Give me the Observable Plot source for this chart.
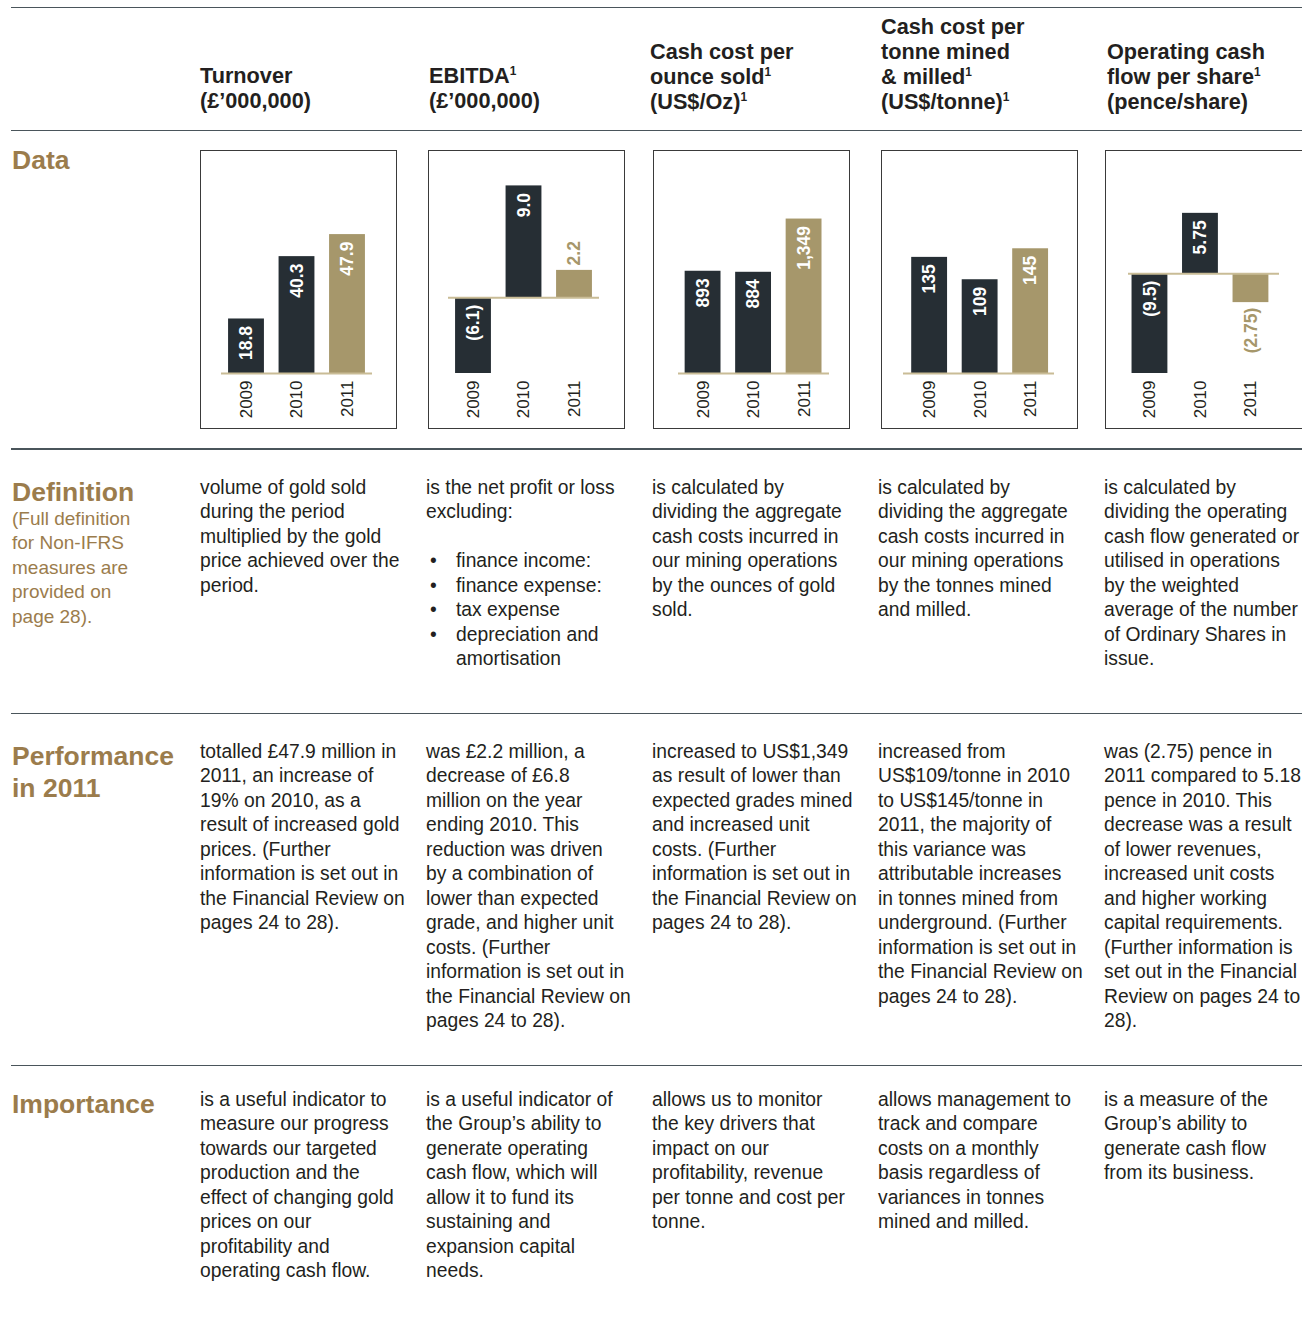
<!DOCTYPE html>
<html>
<head>
<meta charset="utf-8">
<script src="https://cdn.jsdelivr.net/npm/d3@7"></script>
<script src="https://cdn.jsdelivr.net/npm/@observablehq/plot@0.6"></script>
<style>
  html, body { margin: 0; padding: 0; background: #fff; }
  #page { position: relative; width: 1302px; height: 1324px; overflow: hidden; font-family: "Liberation Sans", Arial, Helvetica, sans-serif; color: #231f20; }
  .rule { position: absolute; left: 11px; width: 1300px; height: 1.5px; background: #4a555b; }
  .hdr { position: absolute; font-weight: bold; font-size: 21.7px; line-height: 25px; white-space: nowrap; }
  .hdr sup, .body sup { font-size: 0.55em; vertical-align: 0.65em; line-height: 0; }
  .sec { position: absolute; left: 12px; font-weight: bold; font-size: 26.5px; line-height: 32px; color: #9b7c4c; white-space: nowrap; }
  .sub { position: absolute; left: 12px; font-size: 19px; line-height: 24.5px; color: #9b7c4c; white-space: nowrap; }
  .body { position: absolute; font-size: 19.3px; line-height: 24.5px; white-space: nowrap; }
  .box { position: absolute; top: 150px; width: 197px; height: 279px; border: 1.5px solid #3a3a3a; box-sizing: border-box; }
  .bl { display: block; position: relative; padding-left: 30px; }
  .bl::before { content: "•"; position: absolute; left: 4px; }
</style>
</head>
<body>
<div id="page">
  <div class="rule" style="top:6.5px"></div>
  <div class="rule" style="top:129.5px"></div>
  <div class="rule" style="top:448px"></div>
  <div class="rule" style="top:712.5px"></div>
  <div class="rule" style="top:1064.5px"></div>

  <div class="hdr" style="left:200px;top:62.5px">Turnover<br>(£’000,000)</div>
  <div class="hdr" style="left:429px;top:62.5px">EBITDA<sup>1</sup><br>(£’000,000)</div>
  <div class="hdr" style="left:650px;top:38.5px">Cash cost per<br>ounce sold<sup>1</sup><br>(US$/Oz)<sup>1</sup></div>
  <div class="hdr" style="left:881px;top:14px">Cash cost per<br>tonne mined<br>&amp; milled<sup>1</sup><br>(US$/tonne)<sup>1</sup></div>
  <div class="hdr" style="left:1107px;top:38.5px">Operating cash<br>flow per share<sup>1</sup><br>(pence/share)</div>

  <div class="sec" style="top:144px">Data</div>
  <div class="sec" style="top:476px">Definition</div>
  <div class="sub" style="top:506.5px">(Full definition<br>for Non-IFRS<br>measures are<br>provided on<br>page 28).</div>
  <div class="sec" style="top:740px">Performance<br>in 2011</div>
  <div class="sec" style="top:1088px">Importance</div>

  <div id="charts"></div>

  <div class="body" style="left:200px;top:475.5px">volume of gold sold<br>during the period<br>multiplied by the gold<br>price achieved over the<br>period.</div>
  <div class="body" style="left:426px;top:475.5px">is the net profit or loss<br>excluding:<br><br><span class="bl">finance income:</span><span class="bl">finance expense:</span><span class="bl">tax expense</span><span class="bl">depreciation and<br>amortisation</span></div>
  <div class="body" style="left:652px;top:475.5px">is calculated by<br>dividing the aggregate<br>cash costs incurred in<br>our mining operations<br>by the ounces of gold<br>sold.</div>
  <div class="body" style="left:878px;top:475.5px">is calculated by<br>dividing the aggregate<br>cash costs incurred in<br>our mining operations<br>by the tonnes mined<br>and milled.</div>
  <div class="body" style="left:1104px;top:475.5px">is calculated by<br>dividing the operating<br>cash flow generated or<br>utilised in operations<br>by the weighted<br>average of the number<br>of Ordinary Shares in<br>issue.</div>

  <div class="body" style="left:200px;top:739.5px">totalled £47.9 million in<br>2011, an increase of<br>19% on 2010, as a<br>result of increased gold<br>prices. (Further<br>information is set out in<br>the Financial Review on<br>pages 24 to 28).</div>
  <div class="body" style="left:426px;top:739.5px">was £2.2 million, a<br>decrease of £6.8<br>million on the year<br>ending 2010. This<br>reduction was driven<br>by a combination of<br>lower than expected<br>grade, and higher unit<br>costs. (Further<br>information is set out in<br>the Financial Review on<br>pages 24 to 28).</div>
  <div class="body" style="left:652px;top:739.5px">increased to US$1,349<br>as result of lower than<br>expected grades mined<br>and increased unit<br>costs. (Further<br>information is set out in<br>the Financial Review on<br>pages 24 to 28).</div>
  <div class="body" style="left:878px;top:739.5px">increased from<br>US$109/tonne in 2010<br>to US$145/tonne in<br>2011, the majority of<br>this variance was<br>attributable increases<br>in tonnes mined from<br>underground. (Further<br>information is set out in<br>the Financial Review on<br>pages 24 to 28).</div>
  <div class="body" style="left:1104px;top:739.5px">was (2.75) pence in<br>2011 compared to 5.18<br>pence in 2010. This<br>decrease was a result<br>of lower revenues,<br>increased unit costs<br>and higher working<br>capital requirements.<br>(Further information is<br>set out in the Financial<br>Review on pages 24 to<br>28).</div>

  <div class="body" style="left:200px;top:1087.5px">is a useful indicator to<br>measure our progress<br>towards our targeted<br>production and the<br>effect of changing gold<br>prices on our<br>profitability and<br>operating cash flow.</div>
  <div class="body" style="left:426px;top:1087.5px">is a useful indicator of<br>the Group’s ability to<br>generate operating<br>cash flow, which will<br>allow it to fund its<br>sustaining and<br>expansion capital<br>needs.</div>
  <div class="body" style="left:652px;top:1087.5px">allows us to monitor<br>the key drivers that<br>impact on our<br>profitability, revenue<br>per tonne and cost per<br>tonne.</div>
  <div class="body" style="left:878px;top:1087.5px">allows management to<br>track and compare<br>costs on a monthly<br>basis regardless of<br>variances in tonnes<br>mined and milled.</div>
  <div class="body" style="left:1104px;top:1087.5px">is a measure of the<br>Group’s ability to<br>generate cash flow<br>from its business.</div>
</div>
<script>
// ---- data ----
const years = ["2009", "2010", "2011"];
const turnover = [18.8, 40.3, 47.9];
const turnoverLabels = ["18.8", "40.3", "47.9"];
const ebitda = [-6.1, 9.0, 2.2];
const ebitdaLabels = ["(6.1)", "9.0", "2.2"];
const cashCostOz = [893, 884, 1349];
const cashCostOzLabels = ["893", "884", "1,349"];
const cashCostTonne = [135, 109, 145];
const cashCostTonneLabels = ["135", "109", "145"];
const opCashFlow = [-9.5, 5.75, -2.75];
const opCashFlowLabels = ["(9.5)", "5.75", "(2.75)"];

// ---- styling / layout ----
const dark = "#262e34";
const tan = "#a6976b";
const baseTan = "#c9bc96";
const font = '"Liberation Sans", Arial, Helvetica, sans-serif';
const labelSize = 17.5;
const W = 197, H = 279, MT = 20, MB = 56;

const charts = [
  {left: 200, values: turnover, labels: turnoverLabels, domain: [0, 70], ml: 21, mr: 25, align: 0.5},
  {left: 428, values: ebitda, labels: ebitdaLabels, domain: [-6.1, 10.24], ml: 20, mr: 26, align: 0.5},
  {left: 653, values: cashCostOz, labels: cashCostOzLabels, domain: [0, 1773], ml: 25, mr: 21, align: 0.47},
  {left: 881, values: cashCostTonne, labels: cashCostTonneLabels, domain: [0, 236], ml: 22, mr: 24, align: 0.58},
  {left: 1105, values: opCashFlow, labels: opCashFlowLabels, domain: [-9.5, 9.83], ml: 23, mr: 23, align: 0.25}
];

// approximate rendered width of a bold label (em widths of Arial-like bold)
function labelWidth(s) {
  let w = 0;
  for (const c of s) w += (c === "." || c === ",") ? 0.278 : (c === "(" || c === ")") ? 0.333 : 0.556;
  return w * labelSize;
}

const holder = document.getElementById("charts");
charts.forEach(cfg => {
  const pxPerUnit = (H - MT - MB) / (cfg.domain[1] - cfg.domain[0]);
  const data = years.map((year, i) => {
    const value = cfg.values[i];
    const label = cfg.labels[i];
    const fits = Math.abs(value) * pxPerUnit >= labelWidth(label) + 10;
    return {year, value, label, fits, fill: year === "2011" ? tan : dark};
  });
  const box = document.createElement("div");
  box.className = "box";
  box.style.left = cfg.left + "px";
  if (cfg.left > 1100) box.style.width = "205px";
  holder.appendChild(box);
  const svg = Plot.plot({
    width: W,
    height: H,
    marginLeft: cfg.ml,
    marginRight: cfg.mr,
    marginTop: MT,
    marginBottom: MB,
    x: {domain: years, paddingInner: 0.29, paddingOuter: 0.14, align: cfg.align, round: false, axis: null},
    y: {domain: cfg.domain, axis: null},
    color: {type: "identity"},
    style: {fontFamily: font, background: "transparent", overflow: "visible"},
    marks: [
      Plot.barY(data, {x: "year", y: "value", fill: "fill"}),
      Plot.ruleY([0], {stroke: baseTan, strokeWidth: 2}),
      // labels inside the bar (near the zero end for negatives, near the top for positives)
      Plot.text(data.filter(d => d.fits), {x: "year", y: d => Math.max(0, d.value), text: "label", rotate: -90, textAnchor: "end", lineAnchor: "middle", dy: 7, fill: "white", fontWeight: "bold", fontSize: labelSize}),
      // labels that do not fit: just beyond the bar end, in the bar colour
      Plot.text(data.filter(d => !d.fits && d.value >= 0), {x: "year", y: "value", text: "label", rotate: -90, textAnchor: "start", lineAnchor: "middle", dy: -5, fill: "fill", fontWeight: "bold", fontSize: labelSize}),
      Plot.text(data.filter(d => !d.fits && d.value < 0), {x: "year", y: "value", text: "label", rotate: -90, textAnchor: "end", lineAnchor: "middle", dy: 5, fill: "fill", fontWeight: "bold", fontSize: labelSize}),
      Plot.text(data, {x: "year", frameAnchor: "bottom", text: "year", rotate: -90, textAnchor: "end", lineAnchor: "middle", dy: 7, fill: "#231f20", fontSize: 17})
    ]
  });
  svg.style.position = "absolute";
  svg.style.left = cfg.left + "px";
  svg.style.top = "150px";
  holder.appendChild(svg);
});
</script>
</body>
</html>
